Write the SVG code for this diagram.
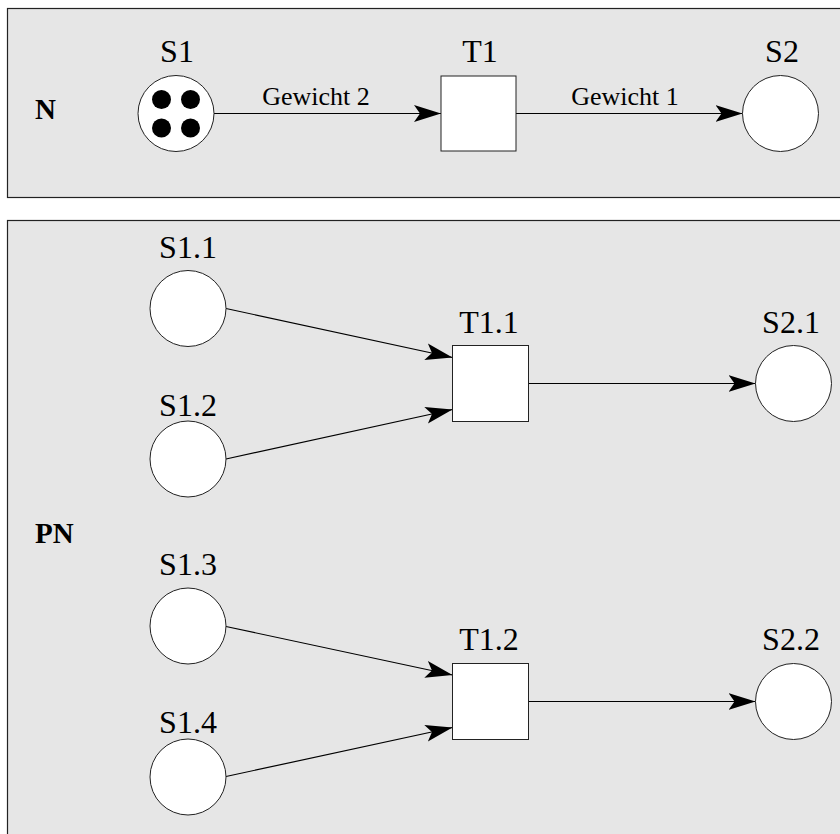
<svg xmlns="http://www.w3.org/2000/svg" width="840" height="834" viewBox="0 0 840 834">
<style>
.panel{fill:#e6e6e6;stroke:#222;stroke-width:1.2}
.place{fill:#fff;stroke:#222;stroke-width:1}
.trans{fill:#fff;stroke:#222;stroke-width:1}
.lbl{font-family:"Liberation Serif","Times New Roman",serif;font-size:32px;fill:#000;text-anchor:middle}
.w{font-family:"Liberation Serif","Times New Roman",serif;font-size:26px;fill:#000;text-anchor:middle}
.title{font-family:"Liberation Serif","Times New Roman",serif;font-size:29px;font-weight:bold;fill:#000}
.arc{stroke:#000;stroke-width:1.2;fill:none;marker-end:url(#ah)}
.tok{fill:#000}
</style>
<defs>
<marker id="ah" markerUnits="userSpaceOnUse" viewBox="0 0 28 18" markerWidth="28" markerHeight="18" refX="27" refY="9" orient="auto">
<path d="M0,0.5 L27,9 L0,17.5 L6,9 z" fill="#000"/>
</marker>
</defs>
<rect x="0" y="0" width="840" height="834" fill="#fff"/>
<g id="panelN">
<rect class="panel" x="7.5" y="8.5" width="840" height="189"/>
<text class="title" x="35" y="119">N</text>
</g>
<g id="panelPN">
<rect class="panel" x="7.5" y="220.5" width="840" height="640"/>
<text class="title" x="35" y="543">PN</text>
</g>
<g id="connectors">
<line class="arc" x1="214" y1="113.5" x2="441" y2="113.5"/>
<line class="arc" x1="516" y1="113.5" x2="742.5" y2="113.5"/>
<line class="arc" x1="226" y1="308.5" x2="452.5" y2="357.5"/>
<line class="arc" x1="226" y1="459" x2="452.5" y2="409.5"/>
<line class="arc" x1="528.5" y1="383.5" x2="755.5" y2="383.5"/>
<line class="arc" x1="226" y1="626.5" x2="452.5" y2="675"/>
<line class="arc" x1="226" y1="776.5" x2="452.5" y2="727.5"/>
<line class="arc" x1="528.5" y1="701.5" x2="755.5" y2="701.5"/>
<text class="w" x="316" y="105">Gewicht 2</text>
<text class="w" x="625" y="105">Gewicht 1</text>
</g>
<g id="S1">
<circle class="place" cx="176" cy="113.5" r="38"/>
<circle class="tok" cx="161.5" cy="99.5" r="9.5"/>
<circle class="tok" cx="190.5" cy="99.5" r="9.5"/>
<circle class="tok" cx="161.5" cy="128" r="9.5"/>
<circle class="tok" cx="190.5" cy="128" r="9.5"/>
<text class="lbl" x="177" y="62">S1</text>
</g>
<g id="T1">
<rect class="trans" x="441" y="76" width="75" height="75"/>
<text class="lbl" x="480" y="62">T1</text>
</g>
<g id="S2">
<circle class="place" cx="780.5" cy="113.5" r="38"/>
<text class="lbl" x="782" y="62">S2</text>
</g>
<g id="S1_1">
<circle class="place" cx="188" cy="308.5" r="38"/>
<text class="lbl" x="188" y="257.5">S1.1</text>
</g>
<g id="S1_2">
<circle class="place" cx="188" cy="459" r="38"/>
<text class="lbl" x="188" y="416">S1.2</text>
</g>
<g id="T1_1">
<rect class="trans" x="452.5" y="345.5" width="76" height="76"/>
<text class="lbl" x="489" y="333">T1.1</text>
</g>
<g id="S2_1">
<circle class="place" cx="793.5" cy="383.5" r="38"/>
<text class="lbl" x="791" y="333">S2.1</text>
</g>
<g id="S1_3">
<circle class="place" cx="188" cy="626" r="38"/>
<text class="lbl" x="188" y="575">S1.3</text>
</g>
<g id="S1_4">
<circle class="place" cx="188" cy="777" r="38"/>
<text class="lbl" x="188" y="733">S1.4</text>
</g>
<g id="T1_2">
<rect class="trans" x="452.5" y="663.5" width="76" height="76"/>
<text class="lbl" x="489" y="650">T1.2</text>
</g>
<g id="S2_2">
<circle class="place" cx="793.5" cy="701.5" r="38"/>
<text class="lbl" x="791" y="650">S2.2</text>
</g>
</svg>
